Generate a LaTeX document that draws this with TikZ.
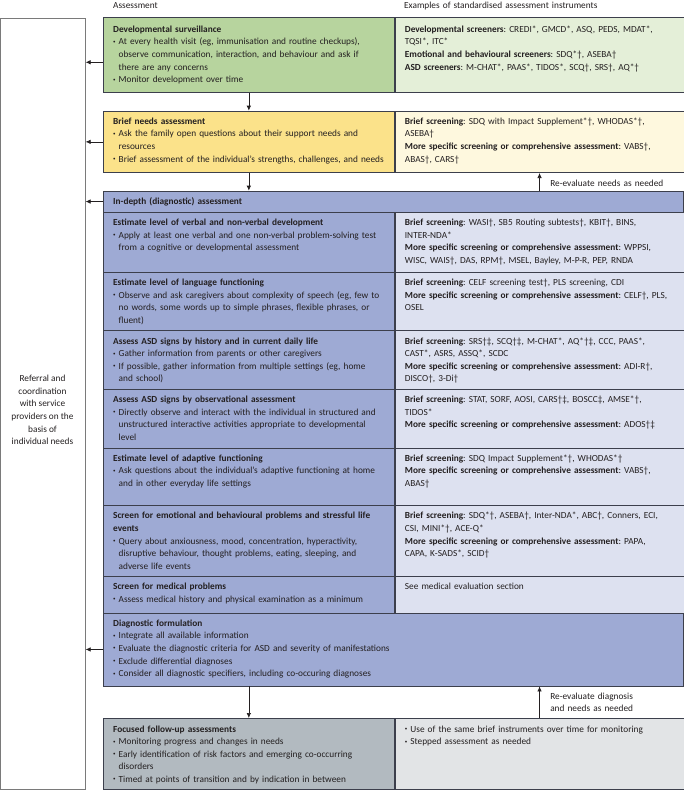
\documentclass[tikz,border=0pt]{standalone}
\usepackage{fontspec}
\setmainfont{Carlito}
\usepackage{xcolor}
\usetikzlibrary{arrows.meta,calc,positioning}
\definecolor{ink}{HTML}{231F20}
\definecolor{boxline}{HTML}{3C3F4C}
\definecolor{refline}{HTML}{7A7A7A}
\definecolor{grnL}{HTML}{B7D49E}
\definecolor{grnR}{HTML}{E4EFD8}
\definecolor{yelL}{HTML}{FBE28A}
\definecolor{yelR}{HTML}{FEF8DE}
\definecolor{bluL}{HTML}{9EAAD4}
\definecolor{bluR}{HTML}{DDE1F0}
\definecolor{gryL}{HTML}{B2BAC0}
\definecolor{gryR}{HTML}{E2E4E6}
\newcommand{\bul}{\makebox[5.5pt][l]{\raisebox{0.35ex}{\fontsize{5}{5}\selectfont\textbullet}}}
\newcommand{\hang}{\hspace*{5.5pt}}
\frenchspacing
\tikzset{
	cell/.style={draw=boxline, line width=0.7pt, inner sep=0pt, anchor=north west},
	txt/.style={anchor=base west, inner sep=0pt, align=left, text width=#1},
	txt/.default=300pt,
	flow/.style={->, draw=ink, line width=0.7pt}
}
\begin{document}
\begin{tikzpicture}[x=1pt, y=-1pt, >={Latex[length=5pt,width=4.5pt]},
		font=\fontsize{9.3}{12.6}\selectfont\frenchspacing, text=ink]
		\useasboundingbox (0,0) rectangle (684,790);
		% column heads
		\node[txt] (headA) at (113,8.5) {Assessment};
		\node[txt] (headB) at (404,8.5) {Examples of standardised assessment instruments};
		% referral
		\node[cell, draw=refline, line width=0.6pt, minimum width=84.5, minimum height=771.5] (refer) at (0.5,17.5) {};
		\node[align=center, inner sep=0pt] (referT) at (42.5,410) {Referral and\\coordination\\with service\\providers on the\\basis of\\individual needs};
		% surveillance
		\node[cell, fill=grnL, minimum width=291, minimum height=74.7] (survL) at (103,17.3) {};
		\node[cell, fill=grnR, minimum width=289, minimum height=74.7] (survR) at (survL.north east) {};
		\node[txt] (survLt) at ($(survL.north west)+(10,15)$) {\textbf{Developmental surveillance}\\
			\bul At every health visit (eg, immunisation and routine checkups),\\
			\hang observe communication, interaction, and behaviour and ask if\\
			\hang there are any concerns\\
			\bul Monitor development over time};
		\node[txt=290pt] (survRt) at ($(survR.north west)+(10,15)$) {\textbf{Developmental screeners}: CREDI*, GMCD*, ASQ, PEDS, MDAT*,\\
			TQSI*, ITC*\\
			\textbf{Emotional and behavioural screeners}: SDQ*†, ASEBA†\\
			\textbf{ASD screeners}: M-CHAT*, PAAS*, TIDOS*, SCQ†, SRS†, AQ*†};
		% needs
		\node[cell, fill=yelL, minimum width=291, minimum height=61.6] (needL) at (103,110.7) {};
		\node[cell, fill=yelR, minimum width=289, minimum height=61.6] (needR) at (needL.north east) {};
		\node[txt] (needLt) at ($(needL.north west)+(10,13.6)$) {\textbf{Brief needs assessment}\\
			\bul Ask the family open questions about their support needs and\\
			\hang resources\\
			\bul Brief assessment of the individual’s strengths, challenges, and needs};
		\node[txt=290pt] (needRt) at ($(needR.north west)+(10,13.6)$) {\textbf{Brief screening}: SDQ with Impact Supplement*†, WHODAS*†,\\
			ASEBA†\\
			\textbf{More specific screening or comprehensive assessment}: VABS†,\\
			ABAS†, CARS†};
		% in-depth
		\node[cell, fill=bluL, minimum width=580, minimum height=21] (deep) at (103,190.7) {};
		\node[txt] (deept) at ($(deep.north west)+(10,13.8)$) {\textbf{In-depth (diagnostic) assessment}};
		\foreach \rname/\rtop/\rhgt in {verb/211.7/60, lang/271.7/58.5, hist/330.2/58.5,
				obs/388.7/58.8, adap/447.5/57.5, emo/505/71, med/576/36.5} {
				\node[cell, fill=bluL, minimum width=291, minimum height=\rhgt] (\rname L) at (103,\rtop) {};
				\node[cell, fill=bluR, minimum width=289, minimum height=\rhgt] (\rname R) at (\rname L.north east) {};
			}
		\node[txt] (verbLt) at ($(verbL.north west)+(10,13.8)$) {\textbf{Estimate level of verbal and non-verbal development}\\
			\bul Apply at least one verbal and one non-verbal problem-solving test\\
			\hang from a cognitive or developmental assessment};
		\node[txt=290pt] (verbRt) at ($(verbR.north west)+(10,13.8)$) {\textbf{Brief screening}: WASI†, SB5 Routing subtests†, KBIT†, BINS,\\
			INTER-NDA*\\
			\textbf{More specific screening or comprehensive assessment}: WPPSI,\\
			WISC, WAIS†, DAS, RPM†, MSEL, Bayley, M-P-R, PEP, RNDA};
		\node[txt] (langLt) at ($(langL.north west)+(10,13.8)$) {\textbf{Estimate level of language functioning}\\
			\bul Observe and ask caregivers about complexity of speech (eg, few to\\
			\hang no words, some words up to simple phrases, flexible phrases, or\\
			\hang fluent)};
		\node[txt=290pt] (langRt) at ($(langR.north west)+(10,13.8)$) {\textbf{Brief screening}: CELF screening test†, PLS screening, CDI\\
			\textbf{More specific screening or comprehensive assessment}: CELF†, PLS,\\
			OSEL};
		\node[txt] (histLt) at ($(histL.north west)+(10,13.8)$) {\textbf{Assess ASD signs by history and in current daily life}\\
			\bul Gather information from parents or other caregivers\\
			\bul If possible, gather information from multiple settings (eg, home\\
			\hang and school)};
		\node[txt=290pt] (histRt) at ($(histR.north west)+(10,13.8)$) {\textbf{Brief screening}: SRS†‡, SCQ†‡, M-CHAT*, AQ*†‡, CCC, PAAS*,\\
			CAST*, ASRS, ASSQ*, SCDC\\
			\textbf{More specific screening or comprehensive assessment}: ADI-R†,\\
			DISCO†, 3-Di†};
		\node[txt] (obsLt) at ($(obsL.north west)+(10,13.8)$) {\textbf{Assess ASD signs by observational assessment}\\
			\bul Directly observe and interact with the individual in structured and\\
			\hang unstructured interactive activities appropriate to developmental\\
			\hang level};
		\node[txt=290pt] (obsRt) at ($(obsR.north west)+(10,13.8)$) {\textbf{Brief screening}: STAT, SORF, AOSI, CARS†‡, BOSCC‡, AMSE*†,\\
			TIDOS*\\
			\textbf{More specific screening or comprehensive assessment}: ADOS†‡};
		\node[txt] (adapLt) at ($(adapL.north west)+(10,13.8)$) {\textbf{Estimate level of adaptive functioning}\\
			\bul Ask questions about the individual’s adaptive functioning at home\\
			\hang and in other everyday life settings};
		\node[txt=290pt] (adapRt) at ($(adapR.north west)+(10,13.8)$) {\textbf{Brief screening}: SDQ Impact Supplement*†, WHODAS*†\\
			\textbf{More specific screening or comprehensive assessment}: VABS†,\\
			ABAS†};
		\node[txt] (emoLt) at ($(emoL.north west)+(10,13.8)$) {\textbf{Screen for emotional and behavioural problems and stressful life}\\
			\textbf{events}\\
			\bul Query about anxiousness, mood, concentration, hyperactivity,\\
			\hang disruptive behaviour, thought problems, eating, sleeping, and\\
			\hang adverse life events};
		\node[txt=290pt] (emoRt) at ($(emoR.north west)+(10,13.8)$) {\textbf{Brief screening}: SDQ*†, ASEBA†, Inter-NDA*, ABC†, Conners, ECI,\\
			CSI, MINI*†, ACE-Q*\\
			\textbf{More specific screening or comprehensive assessment}: PAPA,\\
			CAPA, K-SADS*, SCID†};
		\node[txt] (medLt) at ($(medL.north west)+(10,13.8)$) {\textbf{Screen for medical problems}\\
			\bul Assess medical history and physical examination as a minimum};
		\node[txt=290pt] (medRt) at ($(medR.north west)+(10,13.8)$) {See medical evaluation section};
		% diagnostic formulation
		\node[cell, fill=bluL, minimum width=580, minimum height=73.2] (diag) at (103,612.5) {};
		\node[txt] (diagt) at ($(diag.north west)+(10,13.8)$) {\textbf{Diagnostic formulation}\\
			\bul Integrate all available information\\
			\bul Evaluate the diagnostic criteria for ASD and severity of manifestations\\
			\bul Exclude differential diagnoses\\
			\bul Consider all diagnostic specifiers, including co-occuring diagnoses};
		% follow-up
		\node[cell, fill=gryL, minimum width=291, minimum height=71] (follL) at (103,718) {};
		\node[cell, fill=gryR, minimum width=289, minimum height=71] (follR) at (follL.north east) {};
		\node[txt] (follLt) at ($(follL.north west)+(10,14)$) {\textbf{Focused follow-up assessments}\\
			\bul Monitoring progress and changes in needs\\
			\bul Early identification of risk factors and emerging co-occurring\\
			\hang disorders\\
			\bul Timed at points of transition and by indication in between};
		\node[txt=290pt] (follRt) at ($(follR.north west)+(10,14)$) {\bul Use of the same brief instruments over time for monitoring\\
			\bul Stepped assessment as needed};
		% flow down
		\draw[flow] (survL.south) -- (needL.north);
		\draw[flow] (needL.south) -- (needL.south |- deep.north);
		\draw[flow] (diag.south -| follL.north) -- (follL.north);
		% re-evaluation
		\draw[flow] (needR.south |- deep.north) -- (needR.south);
		\node[txt=130pt] (reNeed) at ($(needR.south)+(10.5,13.2)$) {Re-evaluate needs as needed};
		\draw[flow] (follR.north) -- (follR.north |- diag.south);
		\node[txt=130pt] (reDiag) at ($(follR.north)+(10.5,-18.7)$) {Re-evaluate diagnosis\\and needs as needed};
		% to referral
		\draw[flow] ($(survL.west)+(0,7.3)$) coordinate (sv) -- (sv -| refer.east);
		\draw[flow] (needL.west) -- (needL.west -| refer.east);
		\draw[flow] (deep.west) -- (deep.west -| refer.east);
		\draw[flow] (diag.west) -- (diag.west -| refer.east);
	\end{tikzpicture}
\end{document}
